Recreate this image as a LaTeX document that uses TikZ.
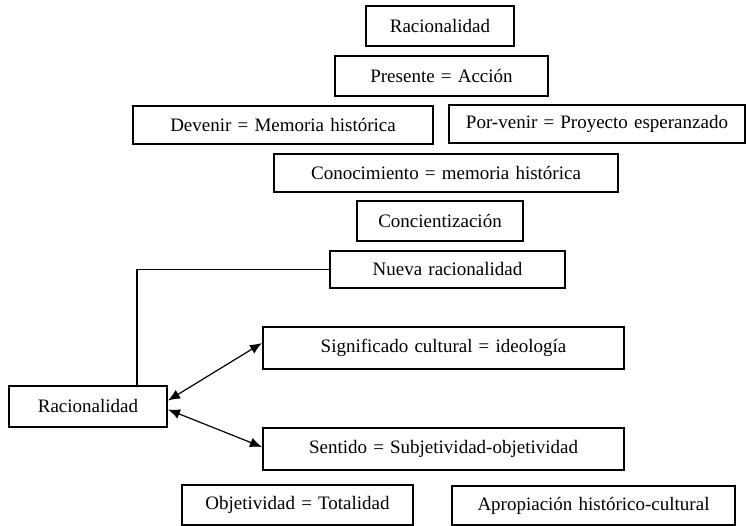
\documentclass[tikz,border=0pt]{standalone}
\usepackage{fontspec}
\setmainfont{Liberation Serif}[WordSpace={1.3,1,1}]
\usetikzlibrary{arrows.meta}
\tikzset{
  caja/.style={draw, line width=2pt, inner sep=0pt, minimum height=40pt,
    font=\fontsize{19}{22}\selectfont},
  flecha/.style={line width=1.2pt, {Latex[length=12pt,width=10pt]}-{Latex[length=12pt,width=10pt]}}
}

\begin{document}
\begin{tikzpicture}[x=1pt,y=-1pt]
        \useasboundingbox (0,0) rectangle (747,526);

        %upper column
        \node[caja, minimum width=148pt] (racarriba) at (440,26) {Racionalidad};
        \node[caja, minimum width=213pt] (presente) at (441.5,76) {Presente = Acción};
        \node[caja, minimum width=300pt, minimum height=38pt] (devenir) at (283,125) {Devenir = Memoria histórica};
        \node[caja, minimum width=296pt, minimum height=38pt] (porvenir) at (597,124) {Por-venir = Proyecto esperanzado};
        \node[caja, minimum width=344pt, minimum height=38pt] (conocimiento) at (446,173) {Conocimiento = memoria histórica};
        \node[caja, minimum width=166pt] (concientizacion) at (440,221) {Concientización};
        \node[caja, minimum width=235pt, minimum height=37pt] (nueva) at (447.5,269.5) {Nueva racionalidad};

        %lower part
        \node[caja, minimum width=361pt, minimum height=42pt] (significado) at (443.5,348) {Significado cultural = ideología};
        \node[caja, minimum width=158pt, minimum height=41pt] (racizq) at (88,406.5) {Racionalidad};
        \node[caja, minimum width=361pt, minimum height=42pt] (sentido) at (443.5,449) {Sentido = Subjetividad-objetividad};
        \node[caja, minimum width=231pt] (objetividad) at (297.5,505) {Objetividad = Totalidad};
        \node[caja, minimum width=283pt, minimum height=39pt] (apropiacion) at (593.5,505.5) {Apropiación histórico-cultural};

        %connecting lines
        \draw[line width=1.1pt] ([xshift=49pt]racizq.north) |- (nueva.west);
        \draw[flecha] ([yshift=6pt]racizq.east) -- ([yshift=5pt]significado.west);
        \draw[flecha] ([yshift=-3pt]racizq.east) -- ([yshift=2pt]sentido.west);
    \end{tikzpicture}
\end{document}
